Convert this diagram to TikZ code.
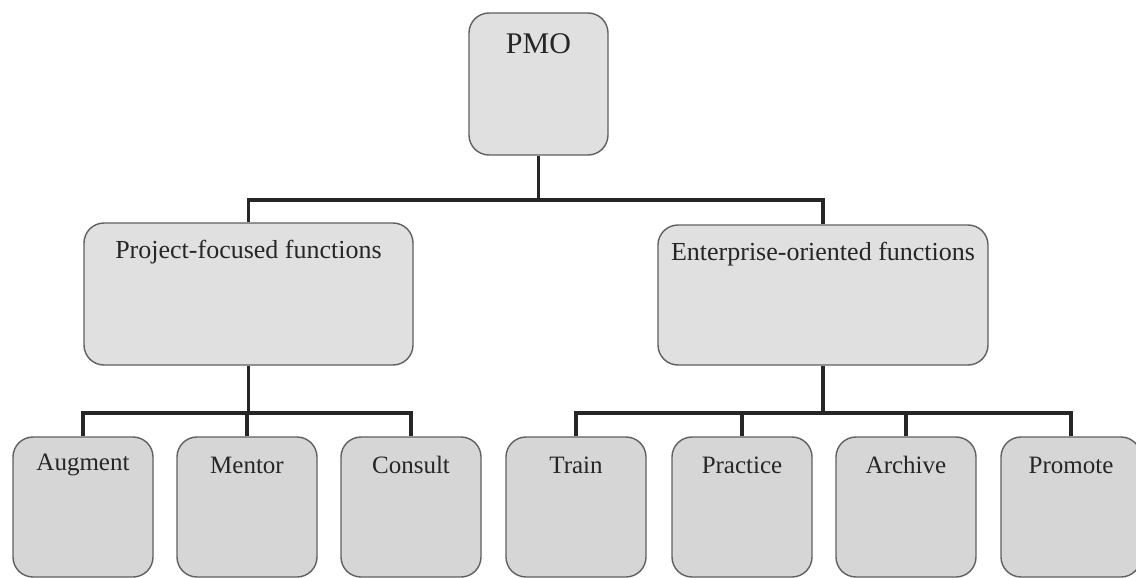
\documentclass[tikz,border=0pt]{standalone}
\usepackage{fontspec}
\setmainfont{Liberation Serif}
\begin{document}
\begin{tikzpicture}[x=1pt,y=-1pt,
  boxshape/.style={draw=gray!75!black, line width=1.4pt, rounded corners=20pt, inner sep=0pt},
  topbox/.style={boxshape, fill=gray!24},
  leafbox/.style={boxshape, fill=gray!32, minimum width=140pt, minimum height=140pt},
  lbl/.style={font=\fontsize{25}{30}\selectfont, text=black!85, inner sep=0pt},
  conn/.style={draw=black!85, line width=3.6pt}]
\useasboundingbox (0,0) rectangle (1136,578);
% boxes
\node[topbox, minimum width=139pt, minimum height=142pt] (pmo) at (538.5,84) {};
\node[topbox, minimum width=329pt, minimum height=142pt] (proj) at (248.5,294) {};
\node[topbox, minimum width=330pt, minimum height=140pt] (ent) at (823,295) {};
\node[leafbox] (aug) at (83,507) {};
\node[leafbox] (men) at (247,507) {};
\node[leafbox] (con) at (411,507) {};
\node[leafbox] (tra) at (576,507) {};
\node[leafbox] (pra) at (742,507) {};
\node[leafbox] (arc) at (906,507) {};
\node[leafbox] (pro) at (1071,507) {};
% texts
\node[lbl, font=\fontsize{30}{36}\selectfont] (pmot) at ([yshift=-31pt]pmo.north) {PMO};
\node[lbl, font=\fontsize{26}{31}\selectfont] (projt) at ([yshift=-30pt]proj.north) {Project-focused functions};
\node[lbl, font=\fontsize{26}{31}\selectfont] (entt) at ([yshift=-30pt]ent.north) {Enterprise-oriented functions};
\node[lbl] (augt) at ([yshift=-29pt]aug.north) {Augment};
\node[lbl] (ment) at ([yshift=-29pt]men.north) {Mentor};
\node[lbl] (cont) at ([yshift=-29pt]con.north) {Consult};
\node[lbl] (trat) at ([yshift=-29pt]tra.north) {Train};
\node[lbl] (prat) at ([yshift=-29pt]pra.north) {Practice};
\node[lbl] (arct) at ([yshift=-29pt]arc.north) {Archive};
\node[lbl] (prot) at ([yshift=-29pt]pro.north) {Promote};
% bus coordinates
\coordinate (bus1) at (0,200);
\coordinate (bus2) at (0,413);
% connectors
\draw[conn] (pmo.south) -- (pmo.south |- bus1);
\draw[conn] (proj.north) |- (pmo.south |- bus1) -| (ent.north);
\draw[conn] (proj.south) -- (proj.south |- bus2);
\draw[conn] (aug.north) |- (proj.south |- bus2) -| (con.north);
\draw[conn] (men.north) -- (men.north |- bus2);
\draw[conn] (ent.south) -- (ent.south |- bus2);
\draw[conn] (tra.north) |- (ent.south |- bus2) -| (pro.north);
\draw[conn] (pra.north) -- (pra.north |- bus2);
\draw[conn] (arc.north) -- (arc.north |- bus2);
\end{tikzpicture}
\end{document}
